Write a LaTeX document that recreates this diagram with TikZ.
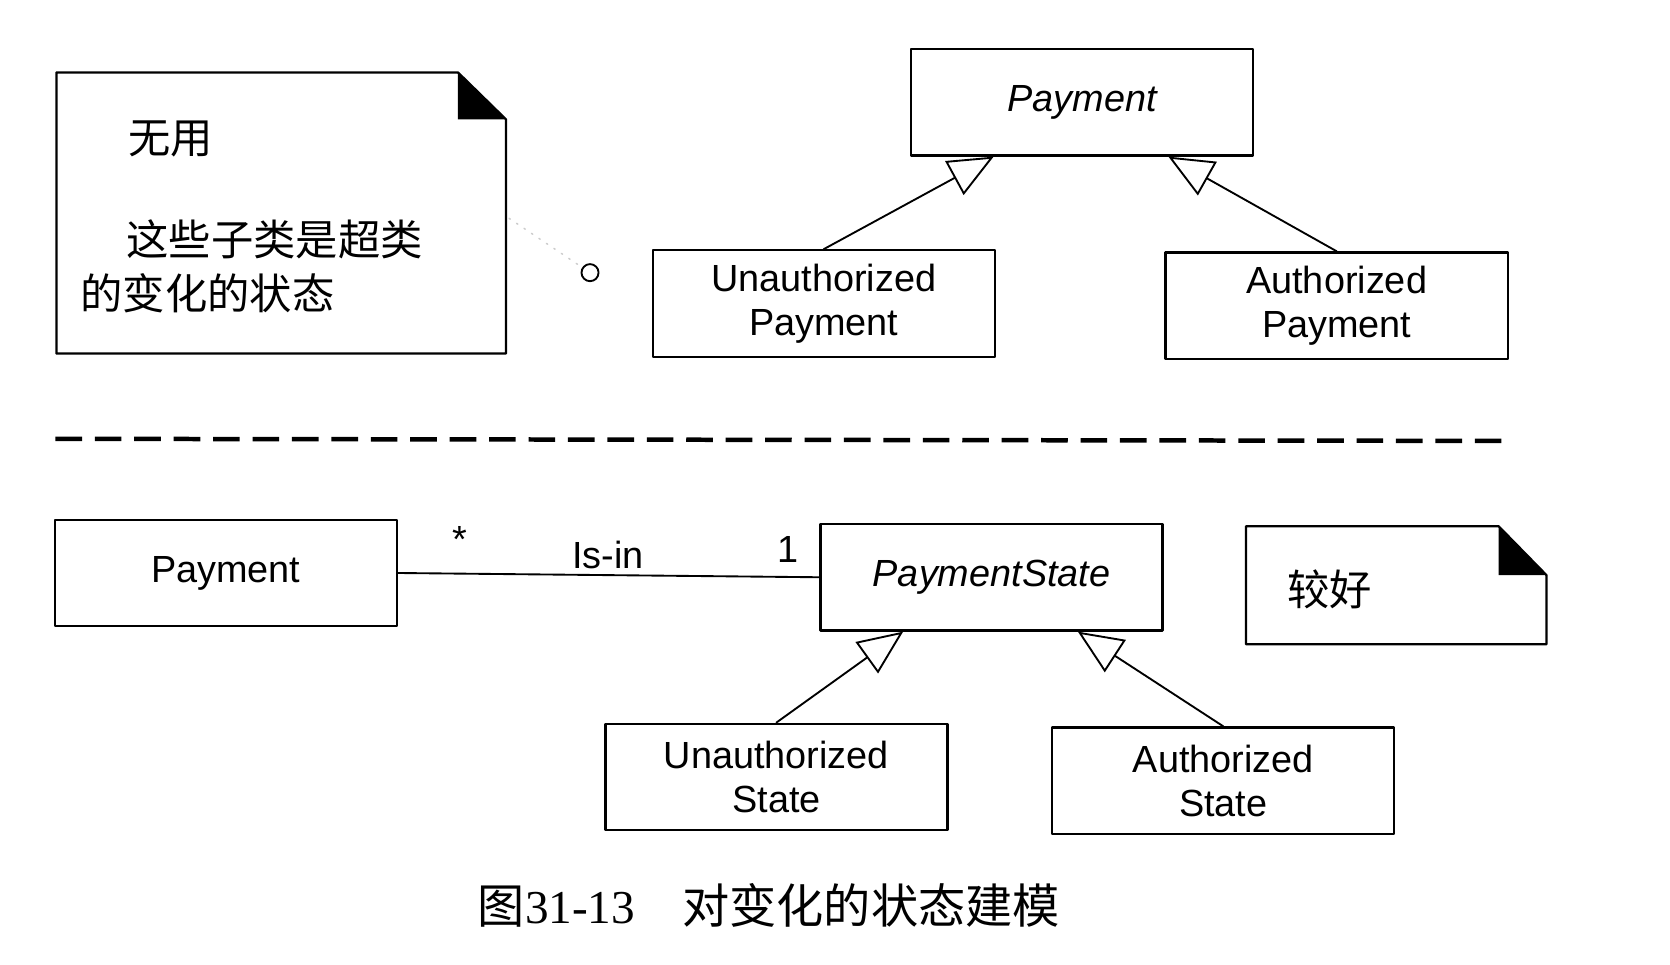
\documentclass[tikz,border=0pt]{standalone}
\usepackage{fontspec}
\setmainfont{Liberation Sans}
\newfontfamily\cjk{Noto Sans CJK SC}
\newfontfamily\capnum{Liberation Serif}
\usetikzlibrary{arrows.meta}
\begin{document}
\begin{tikzpicture}[x=0.01cm, y=-0.01cm, line cap=round, line join=round, font=\fontsize{10.1}{11.8}\selectfont, >=stealth]
			\tikzset{cls/.style={draw, line width=0.6pt, minimum width=3.21cm, minimum height=1cm, inner sep=0pt, align=center},
				isa/.style={-{Triangle[open, length=0.42cm, width=0.36cm]}, line width=0.5pt},
				cjktext/.style={font=\cjk\fontsize{11.3}{13}\selectfont, anchor=west, inner sep=0pt}}
			\useasboundingbox (0,0) rectangle (1568,906);
			% upper half: subclasses
			\draw[line width=0.6pt] (53,68) -- (430,68) -- (475,112) -- (475,332) -- (53,332) -- cycle;
			\fill (430,68) -- (430,112) -- (475,112) -- cycle;
			\node[cjktext] (useless) at (120,130) {无用};
			\node[cjktext] (remark1) at (118,225) {这些子类是超类};
			\node[cjktext] (remark2) at (75,275) {的变化的状态};
			\node[circle, draw, line width=0.5pt, minimum size=0.16cm, inner sep=0pt] (anchor) at (554,256) {};
			\coordinate (notelink) at (478,205);
			\draw[gray!40, dotted] (notelink) -- (anchor);
			\node[cls] (pay) at (1016,96) {\itshape Payment};
			\node[cls] (upay) at (773.5,285) {Unauthorized\\Payment};
			\node[cls] (apay) at (1255,287) {Authorized\\Payment};
			\draw[isa] (upay.north) -- ([xshift=-0.83cm]pay.south);
			\draw[isa] (apay.north) -- ([xshift=0.81cm]pay.south);
			% separator
			\coordinate (sepl) at (52,412);
			\coordinate (sepr) at (1418,414);
			\draw[line width=1.2pt, dash pattern=on 0.25cm off 0.12cm, line cap=butt] (sepl) -- (sepr);
			% lower half: state classes
			\node[cls] (pmt) at (212,538) {Payment};
			\node[cls] (pstate) at (931,542) {\itshape PaymentState};
			\draw[line width=0.5pt] (pmt.east) -- (pstate.west);
			\node (many) at (432,507) {*};
			\node (isin) at (571,521) {Is-in};
			\node (one) at (740,516) {1};
			\draw[line width=0.6pt] (1170,494) -- (1407,494) -- (1452,540) -- (1452,605) -- (1170,605) -- cycle;
			\fill (1407,494) -- (1407,540) -- (1452,540) -- cycle;
			\node[cjktext] (better) at (1208,553) {较好};
			\node[cls] (ustate) at (729,729.5) {Unauthorized\\State};
			\node[cls] (astate) at (1148.5,733) {Authorized\\State};
			\draw[isa] (ustate.north) -- ([xshift=-0.83cm]pstate.south);
			\draw[isa] (astate.north) -- ([xshift=0.81cm]pstate.south);
			\node[anchor=west, inner sep=0pt] (caption) at (448,850) {\fontsize{12.6}{14}\selectfont{\cjk 图}{\capnum 31-13}\quad{\cjk 对变化的状态建模}};
		\end{tikzpicture}
\end{document}
